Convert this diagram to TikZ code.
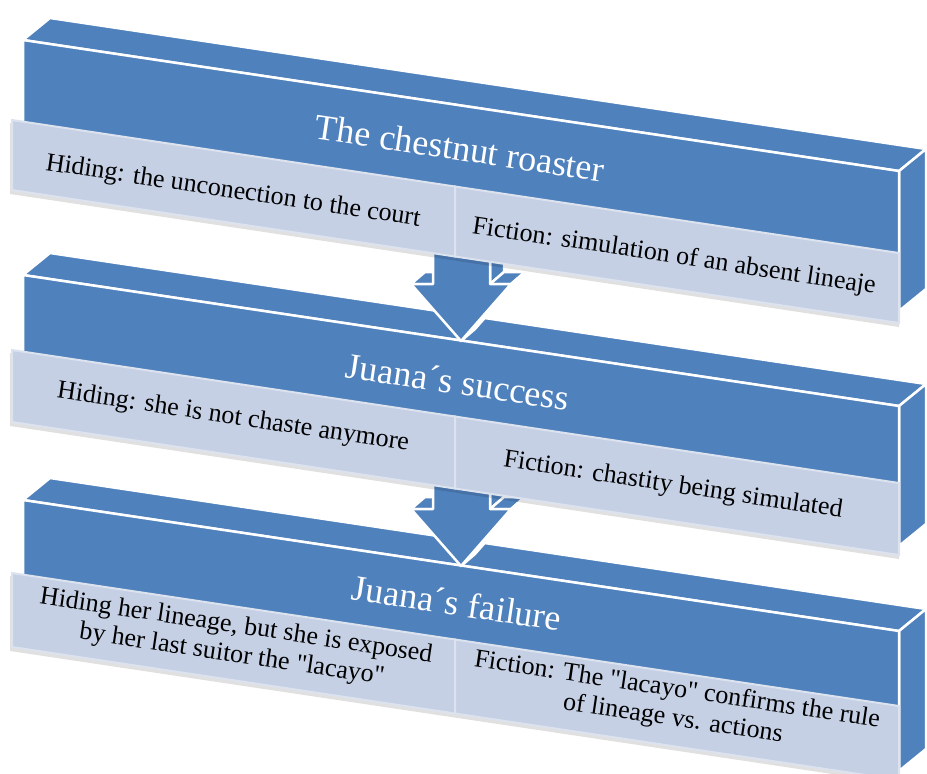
\documentclass[tikz,border=0pt]{standalone}
\usepackage{fontspec}
\setmainfont{Liberation Serif}
\newfontfamily\plainserif{Liberation Serif}
\definecolor{bandblue}{HTML}{4F81BD}
\definecolor{subfill}{HTML}{C5D0E5}
\definecolor{subline}{HTML}{DCE3EF}
\tikzset{
  face/.style={fill=bandblue, draw=white, line width=2.5pt, line join=round},
  subbox/.style={fill=subfill, draw=subline, line width=2pt},
  subshadow/.style={fill=black, opacity=0.12},
  titletext/.style={text=white, font=\plainserif\fontsize{36}{40}\selectfont, rotate=-8.53, inner sep=0pt},
  subtext/.style={text=black, font=\plainserif\fontsize{26}{29}\selectfont, rotate=-8.53, align=center, inner sep=0pt},
}
% #1 = y of front top-left corner, #2 = y of sub-box top-left, #3 = sub-box height
\newcommand\slab[3]{%
  \draw[face] (23,#1) -- (899,{#1+131}) -- (926,{#1+109}) -- (50,{#1-22}) -- cycle;
  \draw[face] (899,{#1+131}) -- (926,{#1+109}) -- (926,{#1+249}) -- (899,{#1+271}) -- cycle;
  \draw[face] (23,#1) -- (899,{#1+131}) -- (899,{#1+271}) -- (23,{#1+140}) -- cycle;
  \fill[subshadow] (10,{#2+3}) -- (899,{#2+136}) -- (899,{#2+#3+137}) -- (10,{#2+#3+4}) -- cycle;
  \draw[subbox] (12,#2) -- (455,{#2+66.5}) -- (455,{#2+66.5+#3}) -- (12,{#2+#3}) -- cycle;
  \draw[subbox] (455,{#2+66.5}) -- (899,{#2+133}) -- (899,{#2+133+#3}) -- (455,{#2+66.5+#3}) -- cycle;
}
% #1 = y of the arrow tip
\newcommand\myarrow[1]{%
  \draw[face] (411,{#1-57}) -- (433,{#1-57}) -- (447,{#1-69}) -- (425,{#1-69}) -- cycle;
  \draw[face] (490,{#1-57}) -- (504,{#1-69}) -- (504,{#1-110}) -- (490,{#1-98}) -- cycle;
  \draw[face] (490,{#1-57}) -- (511,{#1-57}) -- (525,{#1-69}) -- (504,{#1-69}) -- cycle;
  \draw[face] (511,{#1-57}) -- (525,{#1-69}) -- (475,{#1-12}) -- (461,#1) -- cycle;
  \draw[face] (433,{#1-98}) -- (433,{#1-57}) -- (411,{#1-57}) -- (461,#1) -- (511,{#1-57}) -- (490,{#1-57}) -- (490,{#1-98}) -- cycle;
}
\begin{document}
\begin{tikzpicture}[x=1pt, y=-1pt]
\useasboundingbox (0,0) rectangle (927,774);
% band 3
\slab{500}{573}{74}
\node[titletext] (t3) at (457,603) {Juana´s failure};
\node[subtext] (h3) at (234,641) {Hiding her lineage, but she is exposed\\by her last suitor the "lacayo"};
\node[subtext] (f3) at (675,705) {Fiction: The "lacayo" confirms the rule\\of lineage vs. actions};
% arrow 2
\myarrow{566}
% band 2
\slab{275}{350}{72}
\node[titletext] (t2) at (458,382) {Juana´s success};
\node[subtext] (h2) at (233,418) {Hiding: she is not chaste anymore};
\node[subtext] (f2) at (673,486) {Fiction: chastity being simulated};
% arrow 1
\myarrow{341}
% band 1
\slab{40}{120}{70}
\node[titletext] (t1) at (460,148) {The chestnut roaster};
\node[subtext] (h1) at (233,192) {Hiding: the unconection to the court};
\node[subtext] (f1) at (674,257) {Fiction: simulation of an absent lineaje};
\end{tikzpicture}
\end{document}
